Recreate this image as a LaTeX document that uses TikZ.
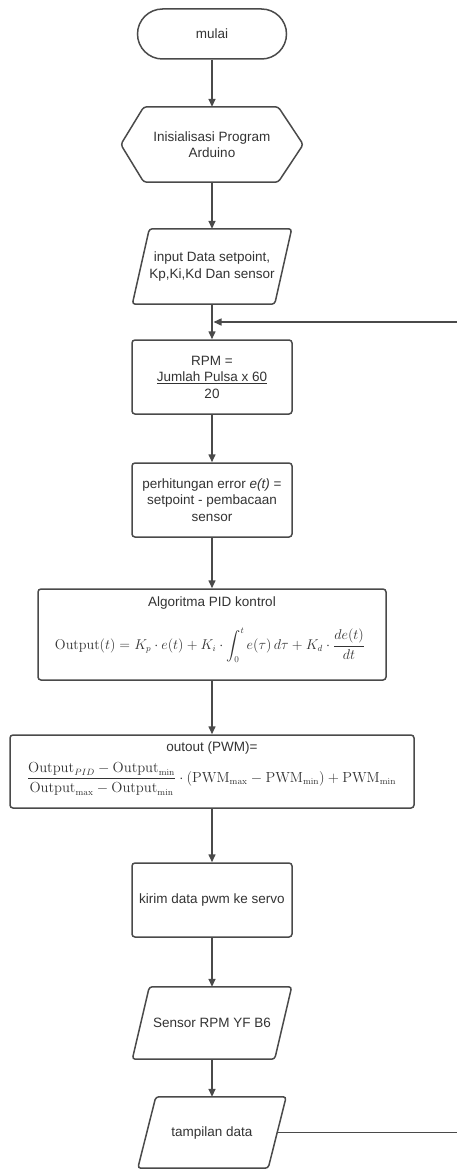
\documentclass[tikz,border=0pt]{standalone}
\usepackage[no-math]{fontspec}
\setmainfont{Liberation Sans}
\usepackage{amsmath}
\usepackage{graphicx}
\usetikzlibrary{arrows.meta}
\definecolor{ln}{HTML}{4A4A4A}
\definecolor{tx}{HTML}{333333}
\begin{document}
\begin{tikzpicture}[x=1pt,y=-1pt,
  base/.style={inner sep=0pt, align=center, text=tx, font=\fontsize{13.5}{16.5}\selectfont},
  proc/.style={base, draw=ln, line width=1.5pt, rounded corners=3pt, minimum width=160pt, minimum height=74pt},
  term/.style={base, draw=ln, line width=1.5pt, rounded corners=25pt, minimum width=149pt, minimum height=50pt},
  shp/.style={draw=ln, line width=1.5pt, rounded corners=3pt},
  flow/.style={draw=ln, line width=1.5pt, -{Triangle[length=8pt,width=7pt]}}]
\useasboundingbox (0,0) rectangle (457,1169);
\clip (0,0) rectangle (457,1169);
\fill[white] (0,0) rectangle (457,1169);

\node[term] (start) at (212,34) {mulai};

\node[base, minimum width=182pt, minimum height=75pt] (init) at (212,144.5) {Inisialisasi Program\\Arduino};
\draw[shp] (init.west) -- ([xshift=23pt]init.north west) -- ([xshift=-25pt]init.north east) -- (init.east) -- ([xshift=-25pt]init.south east) -- ([xshift=23pt]init.south west) -- cycle;

\node[base, minimum width=159pt, minimum height=75pt] (inp) at (212,266.5) {input Data setpoint,\\Kp,Ki,Kd Dan sensor};
\draw[shp] ([xshift=17pt]inp.north west) -- (inp.north east) -- ([xshift=-17pt]inp.south east) -- (inp.south west) -- cycle;

\coordinate (join) at (212,322);

\node[proc] (rpm) at (212,377) {RPM =\\\underline{Jumlah Pulsa x 60}\\20};

\node[proc] (err) at (212,500) {perhitungan error \textit{e(t)} =\\setpoint - pembacaan\\sensor};

\node[proc, minimum width=348pt, minimum height=91pt] (pid) at (212,634.5) {};
\node[base] (pidt) at (212,603) {Algoritma PID kontrol};
\node[base] (pide) at (210,645) {\resizebox{310pt}{!}{$\displaystyle \mathrm{Output}(t) = K_p \cdot e(t) + K_i \cdot \int_0^t e(\tau)\,d\tau + K_d \cdot \frac{de(t)}{dt}$}};

\node[proc, minimum width=404pt, minimum height=73pt] (pwm) at (212,771.5) {};
\node[base] (pwmt) at (212,748) {outout (PWM)=};
\node[base] (pwme) at (211.5,779) {\resizebox{369pt}{!}{$\displaystyle \frac{\mathrm{Output}_{PID}-\mathrm{Output}_{\min}}{\mathrm{Output}_{\max}-\mathrm{Output}_{\min}} \cdot (\mathrm{PWM}_{\max}-\mathrm{PWM}_{\min}) + \mathrm{PWM}_{\min}$}};

\node[proc] (kirim) at (212,900) {kirim data pwm ke servo};

\node[base, minimum width=159pt, minimum height=72pt] (sens) at (212,1023) {Sensor RPM YF B6};
\draw[shp] ([xshift=17pt]sens.north west) -- (sens.north east) -- ([xshift=-17pt]sens.south east) -- (sens.south west) -- cycle;

\node[base, minimum width=148pt, minimum height=71pt] (tamp) at (212,1132.5) {tampilan data};
\draw[shp] ([xshift=18pt]tamp.north west) -- (tamp.north east) -- ([xshift=-18pt]tamp.south east) -- (tamp.south west) -- cycle;

\coordinate (tampr) at ([xshift=-9pt]tamp.east);
\coordinate (loopr) at (480,1132.5);
\coordinate (loopt) at (480,322);

\draw[flow] (start.south) -- (init.north);
\draw[flow] (init.south) -- (inp.north);
\draw[flow] (inp.south) -- (rpm.north);
\draw[flow] (rpm.south) -- (err.north);
\draw[flow] (err.south) -- (pid.north);
\draw[flow] (pid.south) -- (pwm.north);
\draw[flow] (pwm.south) -- (kirim.north);
\draw[flow] (kirim.south) -- (sens.north);
\draw[flow] (sens.south) -- (tamp.north);
\draw[flow] (tampr) -- (loopr) -- (loopt) -- ([xshift=1.5pt]join);
\end{tikzpicture}
\end{document}
